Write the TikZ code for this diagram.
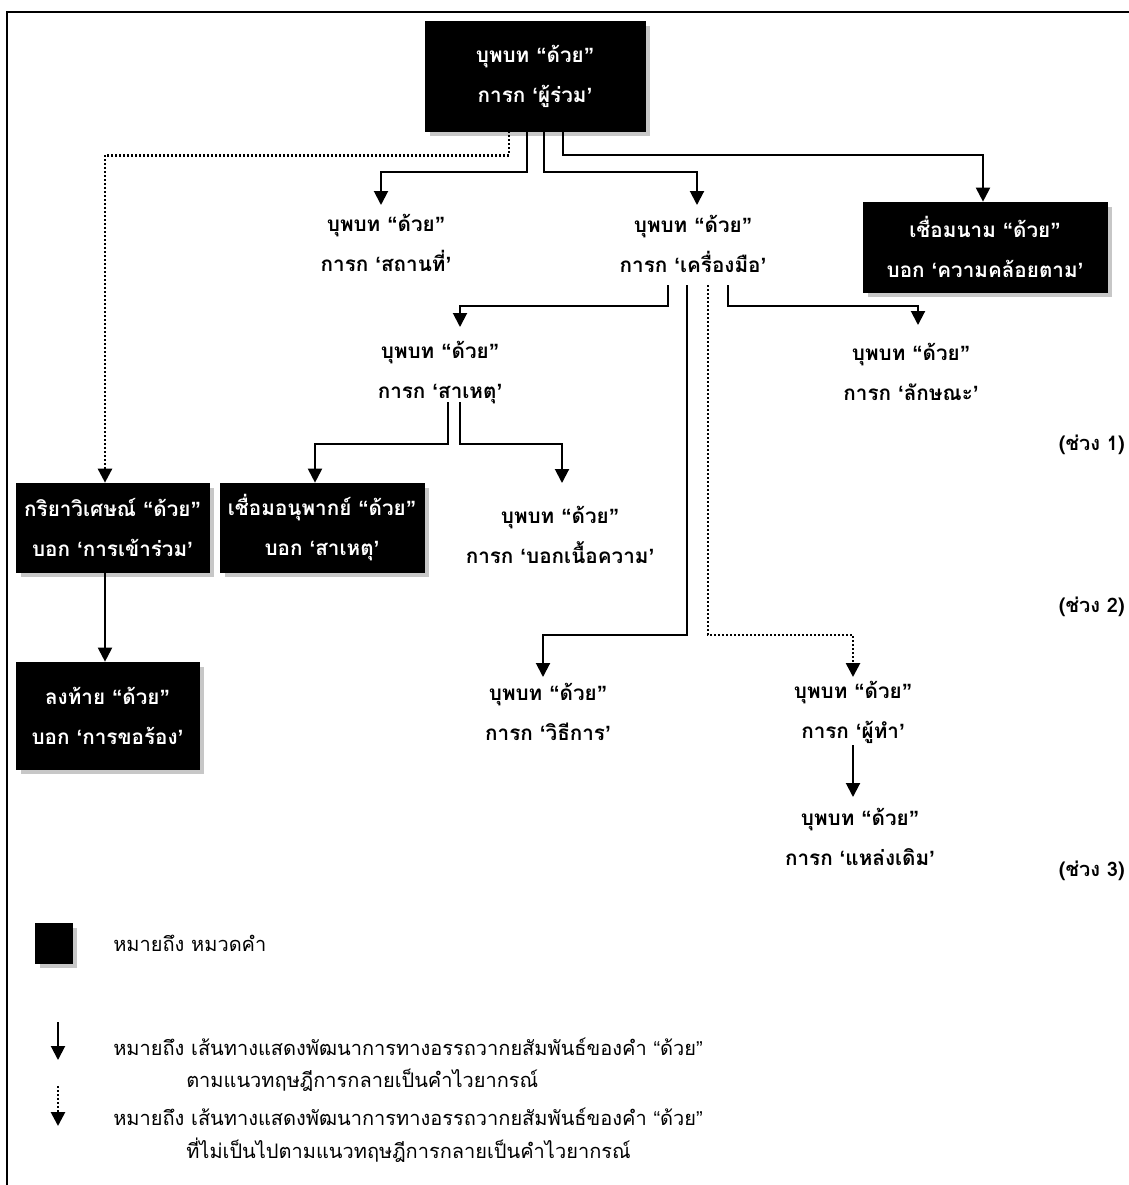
\documentclass[tikz,border=0pt]{standalone}
\usepackage{fontspec}
\newfontfamily\thai[Script=Thai]{Loma}
\newfontfamily\quotefont{Liberation Sans}
\newcommand\dqo{{\quotefont “}}
\newcommand\dqc{{\quotefont ”}}
\newcommand\sqo{{\quotefont ‘}}
\newcommand\sqc{{\quotefont ’}}
\usetikzlibrary{arrows.meta,calc,shadows}

\tikzset{
  flow/.style={line width=1.5pt, -{Triangle[width=10.5pt,length=10.5pt]}},
  dotflow/.style={flow, line width=2pt, dash pattern=on 1.5pt off 1.5pt},
  lbl/.style={align=center, inner sep=0pt,
    font=\thai\bfseries\fontsize{15.5}{30}\selectfont},
  cat/.style={lbl, fill=black, text=white, draw=black, line width=0.5pt,
    drop shadow={shadow xshift=3.5pt, shadow yshift=-3.5pt, fill=black!22, opacity=1}},
  note/.style={anchor=west, inner sep=0pt, font=\thai\fontsize{15}{30}\selectfont},
  period/.style={anchor=east, inner sep=0pt, font=\thai\bfseries\fontsize{15}{18}\selectfont},
}

\begin{document}
\begin{tikzpicture}[x=0.75pt, y=-0.75pt]
\useasboundingbox (0,0) rectangle (1128,1185);

% outer frame: only its top and left sides fall inside the page
\draw[line width=1.5pt] (1200,12) -- (7,12) -- (7,1240);

% word-class boxes
\node[cat, minimum width=165pt, minimum height=82.5pt] (top) at (535,76)
  {บุพบท \dqo ด้วย\dqc\\การก \sqo ผู้ร่วม\sqc};
\node[cat, minimum width=183pt, minimum height=67.5pt] (conj) at (985,247)
  {เชื่อมนาม \dqo ด้วย\dqc\\บอก \sqo ความคล้อยตาม\sqc};
\node[cat, minimum width=144.75pt, minimum height=66.75pt] (adv) at (112.5,527.5)
  {กริยาวิเศษณ์ \dqo ด้วย\dqc\\บอก \sqo การเข้าร่วม\sqc};
\node[cat, minimum width=153pt, minimum height=66.75pt] (sub) at (322,527.5)
  {เชื่อมอนุพากย์ \dqo ด้วย\dqc\\บอก \sqo สาเหตุ\sqc};
\node[cat, minimum width=137.25pt, minimum height=80.25pt] (fin) at (107.5,715.5)
  {ลงท้าย \dqo ด้วย\dqc\\บอก \sqo การขอร้อง\sqc};

% preposition roles
\node[lbl] (place) at (386,243) {บุพบท \dqo ด้วย\dqc\\การก \sqo สถานที่\sqc};
\node[lbl] (instr) at (693,244) {บุพบท \dqo ด้วย\dqc\\การก \sqo เครื่องมือ\sqc};
\node[lbl] (cause) at (440,373) {บุพบท \dqo ด้วย\dqc\\การก \sqo สาเหตุ\sqc};
\node[lbl] (manner) at (911,372) {บุพบท \dqo ด้วย\dqc\\การก \sqo ลักษณะ\sqc};
\node[lbl] (content) at (560,535) {บุพบท \dqo ด้วย\dqc\\การก \sqo บอกเนื้อความ\sqc};
\node[lbl] (method) at (548,712) {บุพบท \dqo ด้วย\dqc\\การก \sqo วิธีการ\sqc};
\node[lbl] (agent) at (853,712) {บุพบท \dqo ด้วย\dqc\\การก \sqo ผู้ทำ\sqc};
\node[lbl] (source) at (860,837) {บุพบท \dqo ด้วย\dqc\\การก \sqo แหล่งเดิม\sqc};

% period labels
\node[period] (p1) at (1125,445) {(ช่วง 1)};
\node[period] (p2) at (1125,607) {(ช่วง 2)};
\node[period] (p3) at (1125,871) {(ช่วง 3)};

% paths from the comitative preposition
\draw[dotflow] ($(top.south)+(-26,0)$) -- ++(0,24) -| ($(adv.north)+(-7.5,0)$);
\draw[flow] ($(top.south)+(-8,0)$) -- ++(0,41) -| ($(place.center)+(-5,-38)$);
\draw[flow] ($(top.south)+(9,0)$) -- ++(0,41) -| ($(instr.center)+(4,-39)$);
\draw[flow] ($(top.south)+(28,0)$) -- ++(0,24) -| ($(conj.north)+(-2,0)$);

% paths from the instrumental preposition
\draw[flow] ($(instr.center)+(-25,41)$) -- ++(0,21) -| ($(cause.center)+(20,-46)$);
\draw[flow] ($(instr.center)+(-6,41)$) -- ++(0,350) -| ($(method.center)+(-5,-35)$);
\draw[dotflow] ($(instr.center)+(15,41)$) -- ++(0,350) -| ($(agent.center)+(0,-35)$);
\draw[flow] ($(instr.center)+(35,41)$) -- ++(0,21) -| ($(manner.center)+(7,-47)$);

% paths from the causal preposition
\draw[flow] ($(cause.center)+(8,29)$) -- ++(0,42) -| ($(sub.north)+(-7,0)$);
\draw[flow] ($(cause.center)+(20,29)$) -- ++(0,42) -| ($(content.center)+(2,-52)$);

% remaining single steps
\draw[flow] ($(adv.south)+(-7.5,0)$) -- ($(fin.north)+(-2.5,0)$);
\draw[flow] ($(agent.center)+(0,33)$) -- ($(source.center)+(-7,-40)$);

% legend
\node[cat, minimum width=27.75pt, minimum height=30pt] (key) at (53.5,943) {};
\node[note] (keytxt) at (113,943) {หมายถึง หมวดคำ};

\coordinate (s1) at (58,1022);
\coordinate (s2) at (58,1060);
\draw[flow] (s1) -- (s2);
\node[note] (solidtxt) at (113,1047) {หมายถึง เส้นทางแสดงพัฒนาการทางอรรถวากยสัมพันธ์ของคำ \dqo ด้วย\dqc};
\node[note] (solidtxt2) at (186,1080) {ตามแนวทฤษฎีการกลายเป็นคำไวยากรณ์};

\coordinate (d1) at (58,1086);
\coordinate (d2) at (58,1126);
\draw[dotflow] (d1) -- (d2);
\node[note] (dottxt) at (113,1117) {หมายถึง เส้นทางแสดงพัฒนาการทางอรรถวากยสัมพันธ์ของคำ \dqo ด้วย\dqc};
\node[note] (dottxt2) at (186,1150) {ที่ไม่เป็นไปตามแนวทฤษฎีการกลายเป็นคำไวยากรณ์};
\end{tikzpicture}
\end{document}
